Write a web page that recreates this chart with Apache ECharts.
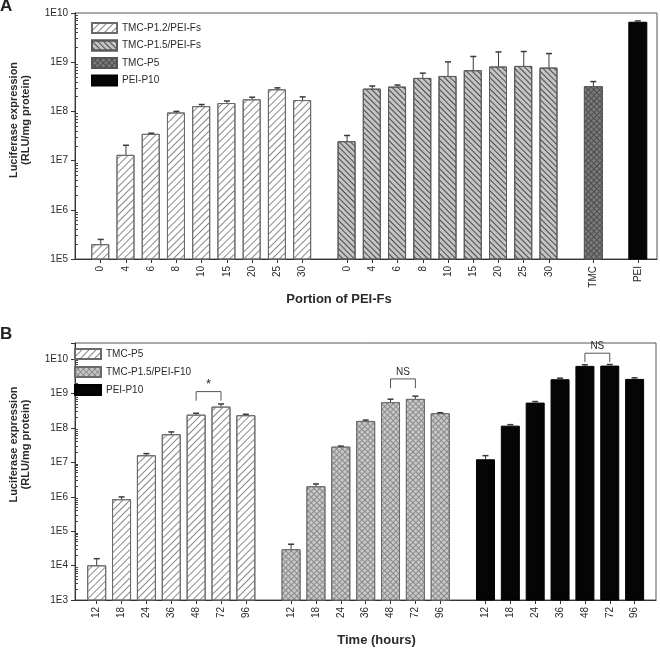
<!DOCTYPE html>
<html><head><meta charset="utf-8">
<script src="https://cdn.jsdelivr.net/npm/echarts@6/dist/echarts.min.js"></script>
<style>html,body{margin:0;padding:0;background:#fff}#c{width:660px;height:648px}</style>
</head><body><div id="c"></div>
<script>
// ---------- Panel A data ----------
const aPortions = ['0','4','6','8','10','15','20','25','30'];
const aP12Values = [2.0e5, 1.31e7, 3.5e7, 9.5e7, 1.28e8, 1.48e8, 1.76e8, 2.81e8, 1.70e8];
const aP12Errors = [0.5e5, 0.74e7, 0.1e7, 0.05e8, 0.1e8, 0.15e8, 0.18e8, 0.2e8, 0.27e8];
const aP15Values = [2.48e7, 2.9e8, 3.19e8, 4.79e8, 5.25e8, 6.87e8, 8.17e8, 8.4e8, 7.78e8];
const aP15Errors = [0.76e7, 0.38e8, 0.25e8, 1.2e8, 4.9e8, 6.2e8, 8.0e8, 8.1e8, 7.2e8];
const aTmcLabels = ['TMC'];
const aTmcValues = [3.24e8];
const aTmcErrors = [0.8e8];
const aPeiLabels = ['PEI'];
const aPeiValues = [6.64e9];
const aPeiErrors = [0.25e9];
const aSeriesNames = ['TMC-P1.2/PEI-Fs', 'TMC-P1.5/PEI-Fs', 'TMC-P5', 'PEI-P10'];
const aYRange = [1e5, 1e10];
const aXName = 'Portion of PEI-Fs';

// ---------- Panel B data ----------
const bTimes = ['12','18','24','36','48','72','96'];
const bTmcP5Values = [1.02e4, 8.5e5, 1.61e7, 6.58e7, 2.44e8, 4.18e8, 2.35e8];
const bTmcP5Errors = [0.57e4, 1.4e5, 0.19e7, 1.1e7, 0.24e8, 0.8e8, 0.15e8];
const bP15F10Values = [2.98e4, 2.02e6, 2.87e7, 1.6e8, 5.61e8, 7.0e8, 2.68e8];
const bP15F10Errors = [1.2e4, 0.34e6, 0.1e7, 0.1e8, 1.25e8, 1.4e8, 0.1e8];
const bPeiValues = [1.23e7, 1.17e8, 5.46e8, 2.61e9, 6.37e9, 6.5e9, 2.67e9];
const bPeiErrors = [0.34e7, 0.08e8, 0.4e8, 0.2e9, 0.5e9, 0.5e9, 0.2e9];
const bSeriesNames = ['TMC-P5', 'TMC-P1.5/PEI-F10', 'PEI-P10'];
const bYRange = [1e3, 2.95e10];
const bXName = 'Time (hours)';
// significance brackets: group index, from, to, bracket top value, leg bottom value, text
const bBracketGroups = [0, 1, 2];
const bBracketFrom = ['48', '48', '48'];
const bBracketTo = ['72', '72', '72'];
const bBracketTop = [1.14e9, 2.67e9, 1.49e10];
const bBracketLeg = [6.2e8, 1.43e9, 8.2e9];
const bBracketText = ['*', 'NS', 'NS'];

const yName = 'Luciferase expression\n(RLU/mg protein)';

// ---------- layout helpers (slot positions along a value axis) ----------
function slotLayout(sizes, gap) {
  const out = []; let x = 0;
  sizes.forEach(n => { const g = []; for (let i = 0; i < n; i++) { g.push(x); x += 1; } x += gap - 1; out.push(g); });
  return out;
}
const aPos = slotLayout([aPortions.length, aPortions.length, aTmcLabels.length, aPeiLabels.length], 1.76);
const bPos = slotLayout([bTimes.length, bTimes.length, bTimes.length], 1.82);
const aLabelGroups = [aPortions, aPortions, aTmcLabels, aPeiLabels];
const bLabelGroups = [bTimes, bTimes, bTimes];
function labelMap(pos, labels) {
  const m = {}; const vals = [];
  pos.forEach((g, gi) => g.forEach((x, i) => { m[x.toFixed(3)] = labels[gi][i]; vals.push(x); }));
  return { m, vals };
}
const aLab = labelMap(aPos, aLabelGroups);
const bLab = labelMap(bPos, bLabelGroups);

const FONT = '"Liberation Sans", Arial, Helvetica, sans-serif';
const TXT = '#2a2a2a';

function logFmt(v) {
  const e = Math.log10(v);
  if (Math.abs(e - Math.round(e)) > 1e-6) return '';
  return '1E' + Math.round(e);
}
function minorTicks(range) {
  const out = [];
  const lo = Math.floor(Math.log10(range[0])), hi = Math.ceil(Math.log10(range[1]));
  for (let k = lo; k < hi; k++) for (let m = 2; m <= 9; m++) { const v = m * Math.pow(10, k); if (v > range[0] && v < range[1]) out.push(v); }
  return out;
}

// pattern styles
const hatchLight = { symbol: 'rect', symbolSize: 1, dashArrayX: [1, 0], dashArrayY: [1, 3.2], rotation: -Math.PI / 4, color: '#8a8a8a' };
const hatchDark = { symbol: 'rect', symbolSize: 1, dashArrayX: [1, 0], dashArrayY: [1, 2.2], rotation: Math.PI / 4, color: '#4a4a4a' };
const crossDark = { symbol: 'rect', symbolSize: 1, dashArrayX: [3, 1], dashArrayY: [3, 1], rotation: Math.PI / 4, color: '#7a7a7a' };
const crossLight = { symbol: 'rect', symbolSize: 1, dashArrayX: [3, 1], dashArrayY: [3, 1], rotation: Math.PI / 4, color: '#c9c9c9' };

function barSeries(panel, name, pos, values, style, xi, yi, width) {
  return {
    type: 'bar', name: panel + ':' + name, xAxisIndex: xi, yAxisIndex: yi,
    data: pos.map((x, i) => [x, values[i]]),
    barWidth: width, barGap: '-100%', clip: true,
    itemStyle: style, emphasis: { disabled: true }, z: 2
  };
}
function errSeries(pos, values, errs, xi, yi) {
  return {
    type: 'custom', xAxisIndex: xi, yAxisIndex: yi, z: 5, silent: true,
    data: pos.map((x, i) => [x, values[i], values[i] + errs[i]]),
    renderItem: (params, api) => {
      const p0 = api.coord([api.value(0), api.value(1)]);
      const p1 = api.coord([api.value(0), api.value(2)]);
      return { type: 'group', children: [
        { type: 'line', shape: { x1: p0[0], y1: p0[1], x2: p1[0], y2: p1[1] }, style: { stroke: '#3a3a3a', lineWidth: 1 } },
        { type: 'line', shape: { x1: p1[0] - 3, y1: p1[1], x2: p1[0] + 3, y2: p1[1] }, style: { stroke: '#3a3a3a', lineWidth: 1.5 } }
      ] };
    }
  };
}

const styleA1 = { color: '#ffffff', borderColor: '#6a6a6a', borderWidth: 1, decal: hatchLight };
const styleA2 = { color: '#c4c4c4', borderColor: '#5a5a5a', borderWidth: 1, decal: hatchDark };
const styleA3 = { color: '#4e4e4e', borderColor: '#555', borderWidth: 1, decal: crossDark };
const styleBlack = { color: '#050505', borderColor: '#000', borderWidth: 1 };
const styleB1 = { color: '#ffffff', borderColor: '#6a6a6a', borderWidth: 1, decal: hatchLight };
const styleB2 = { color: '#8a8a8a', borderColor: '#6a6a6a', borderWidth: 1, decal: crossLight };

function xAxisCfg(gi, min, max, lab, name, namePad) {
  return {
    type: 'value', gridIndex: gi, min: min, max: max, splitLine: { show: false },
    axisLine: { show: true, onZero: false, lineStyle: { color: '#333', width: 1 } },
    axisTick: { show: true, length: 4, customValues: lab.vals, lineStyle: { color: '#333' } },
    axisLabel: { customValues: lab.vals, rotate: 90, margin: 7, fontSize: 10, color: TXT, fontFamily: FONT,
      formatter: v => lab.m[Number(v).toFixed(3)] || '' },
    name: name, nameLocation: 'middle', nameGap: 34,
    nameTextStyle: { fontSize: 13, fontWeight: 'bold', color: TXT, fontFamily: FONT, padding: namePad }
  };
}
function yAxisCfg(gi, range, namePad) {
  return {
    type: 'log', logBase: 10, gridIndex: gi, min: range[0], max: range[1], position: 'left', splitLine: { show: false },
    axisLine: { show: true, onZero: false, lineStyle: { color: '#333', width: 1 } },
    axisTick: { show: true, length: 4, lineStyle: { color: '#333' } },
    axisLabel: { fontSize: 10, color: TXT, fontFamily: FONT, margin: 7, formatter: logFmt },
    name: yName, nameLocation: 'middle', nameGap: 43,
    nameTextStyle: { fontSize: 11, fontWeight: 'bold', color: TXT, fontFamily: FONT, lineHeight: 12, padding: namePad }
  };
}
function yMinorCfg(gi, range) {
  return {
    type: 'log', logBase: 10, gridIndex: gi, min: range[0], max: range[1], position: 'left', offset: 0, splitLine: { show: false },
    axisLine: { show: false, onZero: false }, axisLabel: { show: false },
    axisTick: { show: true, inside: true, length: 3, customValues: minorTicks(range), lineStyle: { color: '#444' } }
  };
}

const brackets = {
  type: 'custom', xAxisIndex: 1, yAxisIndex: 2, z: 6, silent: true,
  data: bBracketGroups.map((g, i) => [bPos[g][bTimes.indexOf(bBracketFrom[i])], bPos[g][bTimes.indexOf(bBracketTo[i])], bBracketTop[i], bBracketLeg[i]]),
  renderItem: (params, api) => {
    const a = api.coord([api.value(0), api.value(2)]);
    const b = api.coord([api.value(1), api.value(2)]);
    const a2 = api.coord([api.value(0), api.value(3)]);
    const b2 = api.coord([api.value(1), api.value(3)]);
    const t = bBracketText[params.dataIndex];
    return { type: 'group', children: [
      { type: 'polyline', shape: { points: [a2, a, b, b2] }, style: { stroke: '#555', fill: null, lineWidth: 1 } },
      { type: 'text', style: { text: t, x: (a[0] + b[0]) / 2, y: a[1] - (t === '*' ? 1 : 2), align: 'center', verticalAlign: 'bottom',
        fontSize: t === '*' ? 13 : 10, fontFamily: FONT, fill: TXT } }
    ] };
  }
};

const option = {
  animation: false,
  backgroundColor: '#fff',
  title: [
    { text: 'A', left: 0, top: -2, padding: 0, textStyle: { fontSize: 17, fontWeight: 'bold', color: '#222', fontFamily: FONT } },
    { text: 'B', left: 0, top: 326, padding: 0, textStyle: { fontSize: 17, fontWeight: 'bold', color: '#222', fontFamily: FONT } }
  ],
  grid: [
    { left: 69, right: 3, top: 13, bottom: 389, show: true, borderColor: '#555', borderWidth: 1, backgroundColor: 'transparent' },
    { left: 67, right: 4, top: 343, bottom: 48, show: true, borderColor: '#555', borderWidth: 1, backgroundColor: 'transparent' }
  ],
  legend: [
    { left: 91, top: 22, orient: 'vertical', itemWidth: 25, itemHeight: 10, itemGap: 5.5, icon: 'rect', padding: 0, selectedMode: false,
      data: aSeriesNames.map(n => 'A:' + n), formatter: n => n.slice(2), textStyle: { fontSize: 10, color: TXT, fontFamily: FONT } },
    { left: 74, top: 348, orient: 'vertical', itemWidth: 26, itemHeight: 10, itemGap: 6, icon: 'rect', padding: 0, selectedMode: false,
      data: bSeriesNames.map(n => 'B:' + n), formatter: n => n.slice(2), textStyle: { fontSize: 10, color: TXT, fontFamily: FONT } }
  ],
  xAxis: [
    xAxisCfg(0, -1.02, 22.04, aLab, aXName, [0, 54, 0, 0]),
    xAxisCfg(1, -0.873, 22.5, bLab, bXName, [0, 0, 0, 22])
  ],
  yAxis: [
    yAxisCfg(0, aYRange, [0, 0, 0, 32]),
    yMinorCfg(0, aYRange),
    yAxisCfg(1, bYRange, [0, 0, 0, 54]),
    yMinorCfg(1, bYRange)
  ],
  series: [
    barSeries('A', aSeriesNames[0], aPos[0], aP12Values, styleA1, 0, 0, 18),
    barSeries('A', aSeriesNames[1], aPos[1], aP15Values, styleA2, 0, 0, 18),
    barSeries('A', aSeriesNames[2], aPos[2], aTmcValues, styleA3, 0, 0, 19),
    barSeries('A', aSeriesNames[3], aPos[3], aPeiValues, styleBlack, 0, 0, 19),
    errSeries(aPos[0], aP12Values, aP12Errors, 0, 0),
    errSeries(aPos[1], aP15Values, aP15Errors, 0, 0),
    errSeries(aPos[2], aTmcValues, aTmcErrors, 0, 0),
    errSeries(aPos[3], aPeiValues, aPeiErrors, 0, 0),
    barSeries('B', bSeriesNames[0], bPos[0], bTmcP5Values, styleB1, 1, 2, 19),
    barSeries('B', bSeriesNames[1], bPos[1], bP15F10Values, styleB2, 1, 2, 19),
    barSeries('B', bSeriesNames[2], bPos[2], bPeiValues, styleBlack, 1, 2, 19),
    errSeries(bPos[0], bTmcP5Values, bTmcP5Errors, 1, 2),
    errSeries(bPos[1], bP15F10Values, bP15F10Errors, 1, 2),
    errSeries(bPos[2], bPeiValues, bPeiErrors, 1, 2),
    brackets
  ]
};
const chart = echarts.init(document.getElementById('c'), null, { renderer: 'canvas', width: 660, height: 648 });
chart.setOption(option);
</script></body></html>
